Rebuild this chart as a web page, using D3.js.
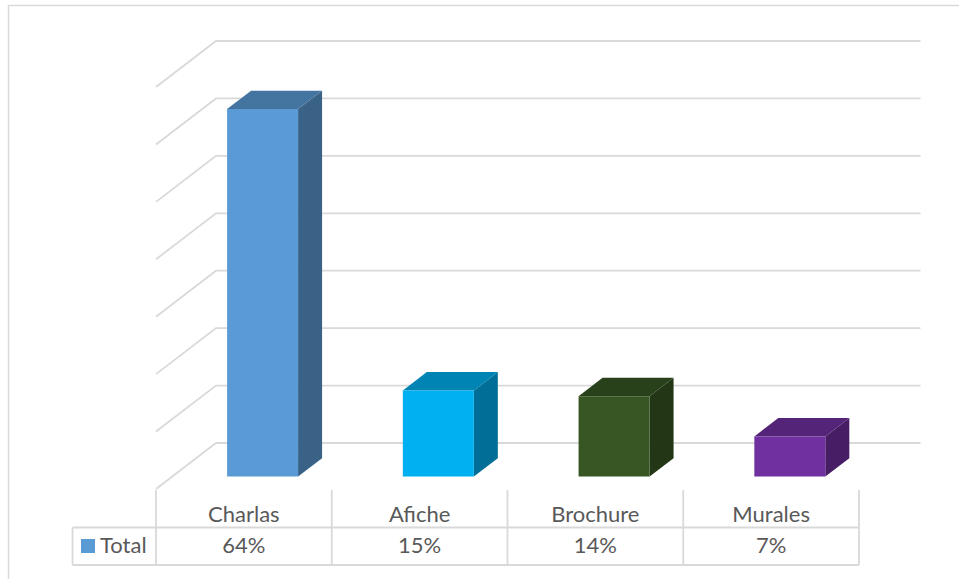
<!DOCTYPE html>
<html>
<head>
<meta charset="utf-8">
<script src="https://cdn.jsdelivr.net/npm/d3@7"></script>
<style>
  body { margin: 0; background: #fff; }
  text { font-family: Lato, "Open Sans", sans-serif; fill: #595959; }
</style>
</head>
<body>
<div id="chart"></div>
<script>
// data
var categories = ["Charlas", "Afiche", "Brochure", "Murales"];
var values = [64, 15, 14, 7];
var valueLabels = ["64%", "15%", "14%", "7%"];
var seriesName = "Total";
var tickValues = [0, 10, 20, 30, 40, 50, 60, 70];
var colors = ["#5b9bd5", "#00b0f0", "#375623", "#7030a0"];

var width = 959, height = 579;

// floor front edge, depth vector of the 3d box
var left = 156, right = 859, floorY = 489;
var depth = { dx: 60, dy: -46 };

var svg = d3.select("#chart").append("svg")
    .attr("width", width)
    .attr("height", height);

// outer chart border (right/bottom run off the picture)
svg.append("rect")
    .attr("x", 8.5).attr("y", 5.5)
    .attr("width", 960).attr("height", 600)
    .attr("fill", "none")
    .attr("stroke", "#d9d9d9")
    .attr("stroke-width", 1.5);

var x = d3.scaleBand().domain(categories).range([left, right]);
var y = d3.scaleLinear().domain([0, 70]).range([0, 402]);

// point on the box at depth fraction f, value v
function px(xx, f) { return xx + depth.dx * f; }
function py(v, f) { return floorY + depth.dy * f - y(v); }

// gridlines: left wall diagonal + back wall line
var grid = svg.append("g");
tickValues.forEach(function(t) {
  grid.append("path")
      .attr("d", "M" + left + "," + py(t, 0) +
                 "L" + px(left, 1) + "," + py(t, 1) +
                 "L" + 920.5 + "," + py(t, 1))
      .attr("fill", "none")
      .attr("stroke", "#d9d9d9")
      .attr("stroke-width", 1.8);
});

// 3d bars
var f0 = 0.27, f1 = 0.67, barW = 71, shiftX = 2.5;
var bars = svg.append("g");
categories.forEach(function(c, i) {
  var v = values[i];
  var col = d3.color(colors[i]);
  var xl = x(c) + (x.bandwidth() - barW) / 2 + shiftX;
  var xr = xl + barW;
  var topCol = d3.rgb(col.r * 0.75, col.g * 0.75, col.b * 0.75);
  var sideCol = d3.rgb(col.r * 0.63, col.g * 0.63, col.b * 0.63);

  var ftl = [px(xl, f0), py(v, f0)], ftr = [px(xr, f0), py(v, f0)];
  var fbl = [px(xl, f0), py(0, f0)], fbr = [px(xr, f0), py(0, f0)];
  var btl = [px(xl, f1), py(v, f1)], btr = [px(xr, f1), py(v, f1)];
  var bbr = [px(xr, f1), py(0, f1)];

  // side
  bars.append("polygon")
      .attr("points", [ftr, btr, bbr, fbr].join(" "))
      .attr("fill", sideCol);
  // top
  bars.append("polygon")
      .attr("points", [ftl, btl, btr, ftr].join(" "))
      .attr("fill", topCol);
  // front
  bars.append("polygon")
      .attr("points", [ftl, ftr, fbr, fbl].join(" "))
      .attr("fill", col);
});

// data table
var rowTop = 490, rowMid = 527.5, rowBot = 565, tableLeft = 72.5;
var table = svg.append("g")
    .attr("stroke", "#d9d9d9")
    .attr("stroke-width", 1.8)
    .attr("fill", "none");

var cols = categories.map(function(c) { return x(c); }).concat([right]);
cols.forEach(function(cx) {
  table.append("line")
      .attr("x1", cx).attr("x2", cx)
      .attr("y1", rowTop).attr("y2", rowBot);
});
table.append("line").attr("x1", tableLeft).attr("x2", right).attr("y1", rowMid).attr("y2", rowMid);
table.append("line").attr("x1", tableLeft).attr("x2", right).attr("y1", rowBot).attr("y2", rowBot);
table.append("line").attr("x1", tableLeft).attr("x2", tableLeft).attr("y1", rowMid).attr("y2", rowBot);

// category labels
svg.append("g").selectAll("text")
    .data(categories)
    .enter().append("text")
    .attr("x", function(d) { return x(d) + x.bandwidth() / 2; })
    .attr("y", 521.5)
    .attr("text-anchor", "middle")
    .attr("font-size", 22)
    .text(function(d) { return d; });

// value labels
svg.append("g").selectAll("text")
    .data(valueLabels)
    .enter().append("text")
    .attr("x", function(d, i) { return x(categories[i]) + x.bandwidth() / 2; })
    .attr("y", 552.5)
    .attr("text-anchor", "middle")
    .attr("font-size", 22)
    .text(function(d) { return d; });

// legend key
svg.append("rect")
    .attr("x", 81).attr("y", 539)
    .attr("width", 14).attr("height", 14)
    .attr("fill", colors[0]);
svg.append("text")
    .attr("x", 100)
    .attr("y", 552.5)
    .attr("font-size", 22)
    .text(seriesName);
</script>
</body>
</html>
